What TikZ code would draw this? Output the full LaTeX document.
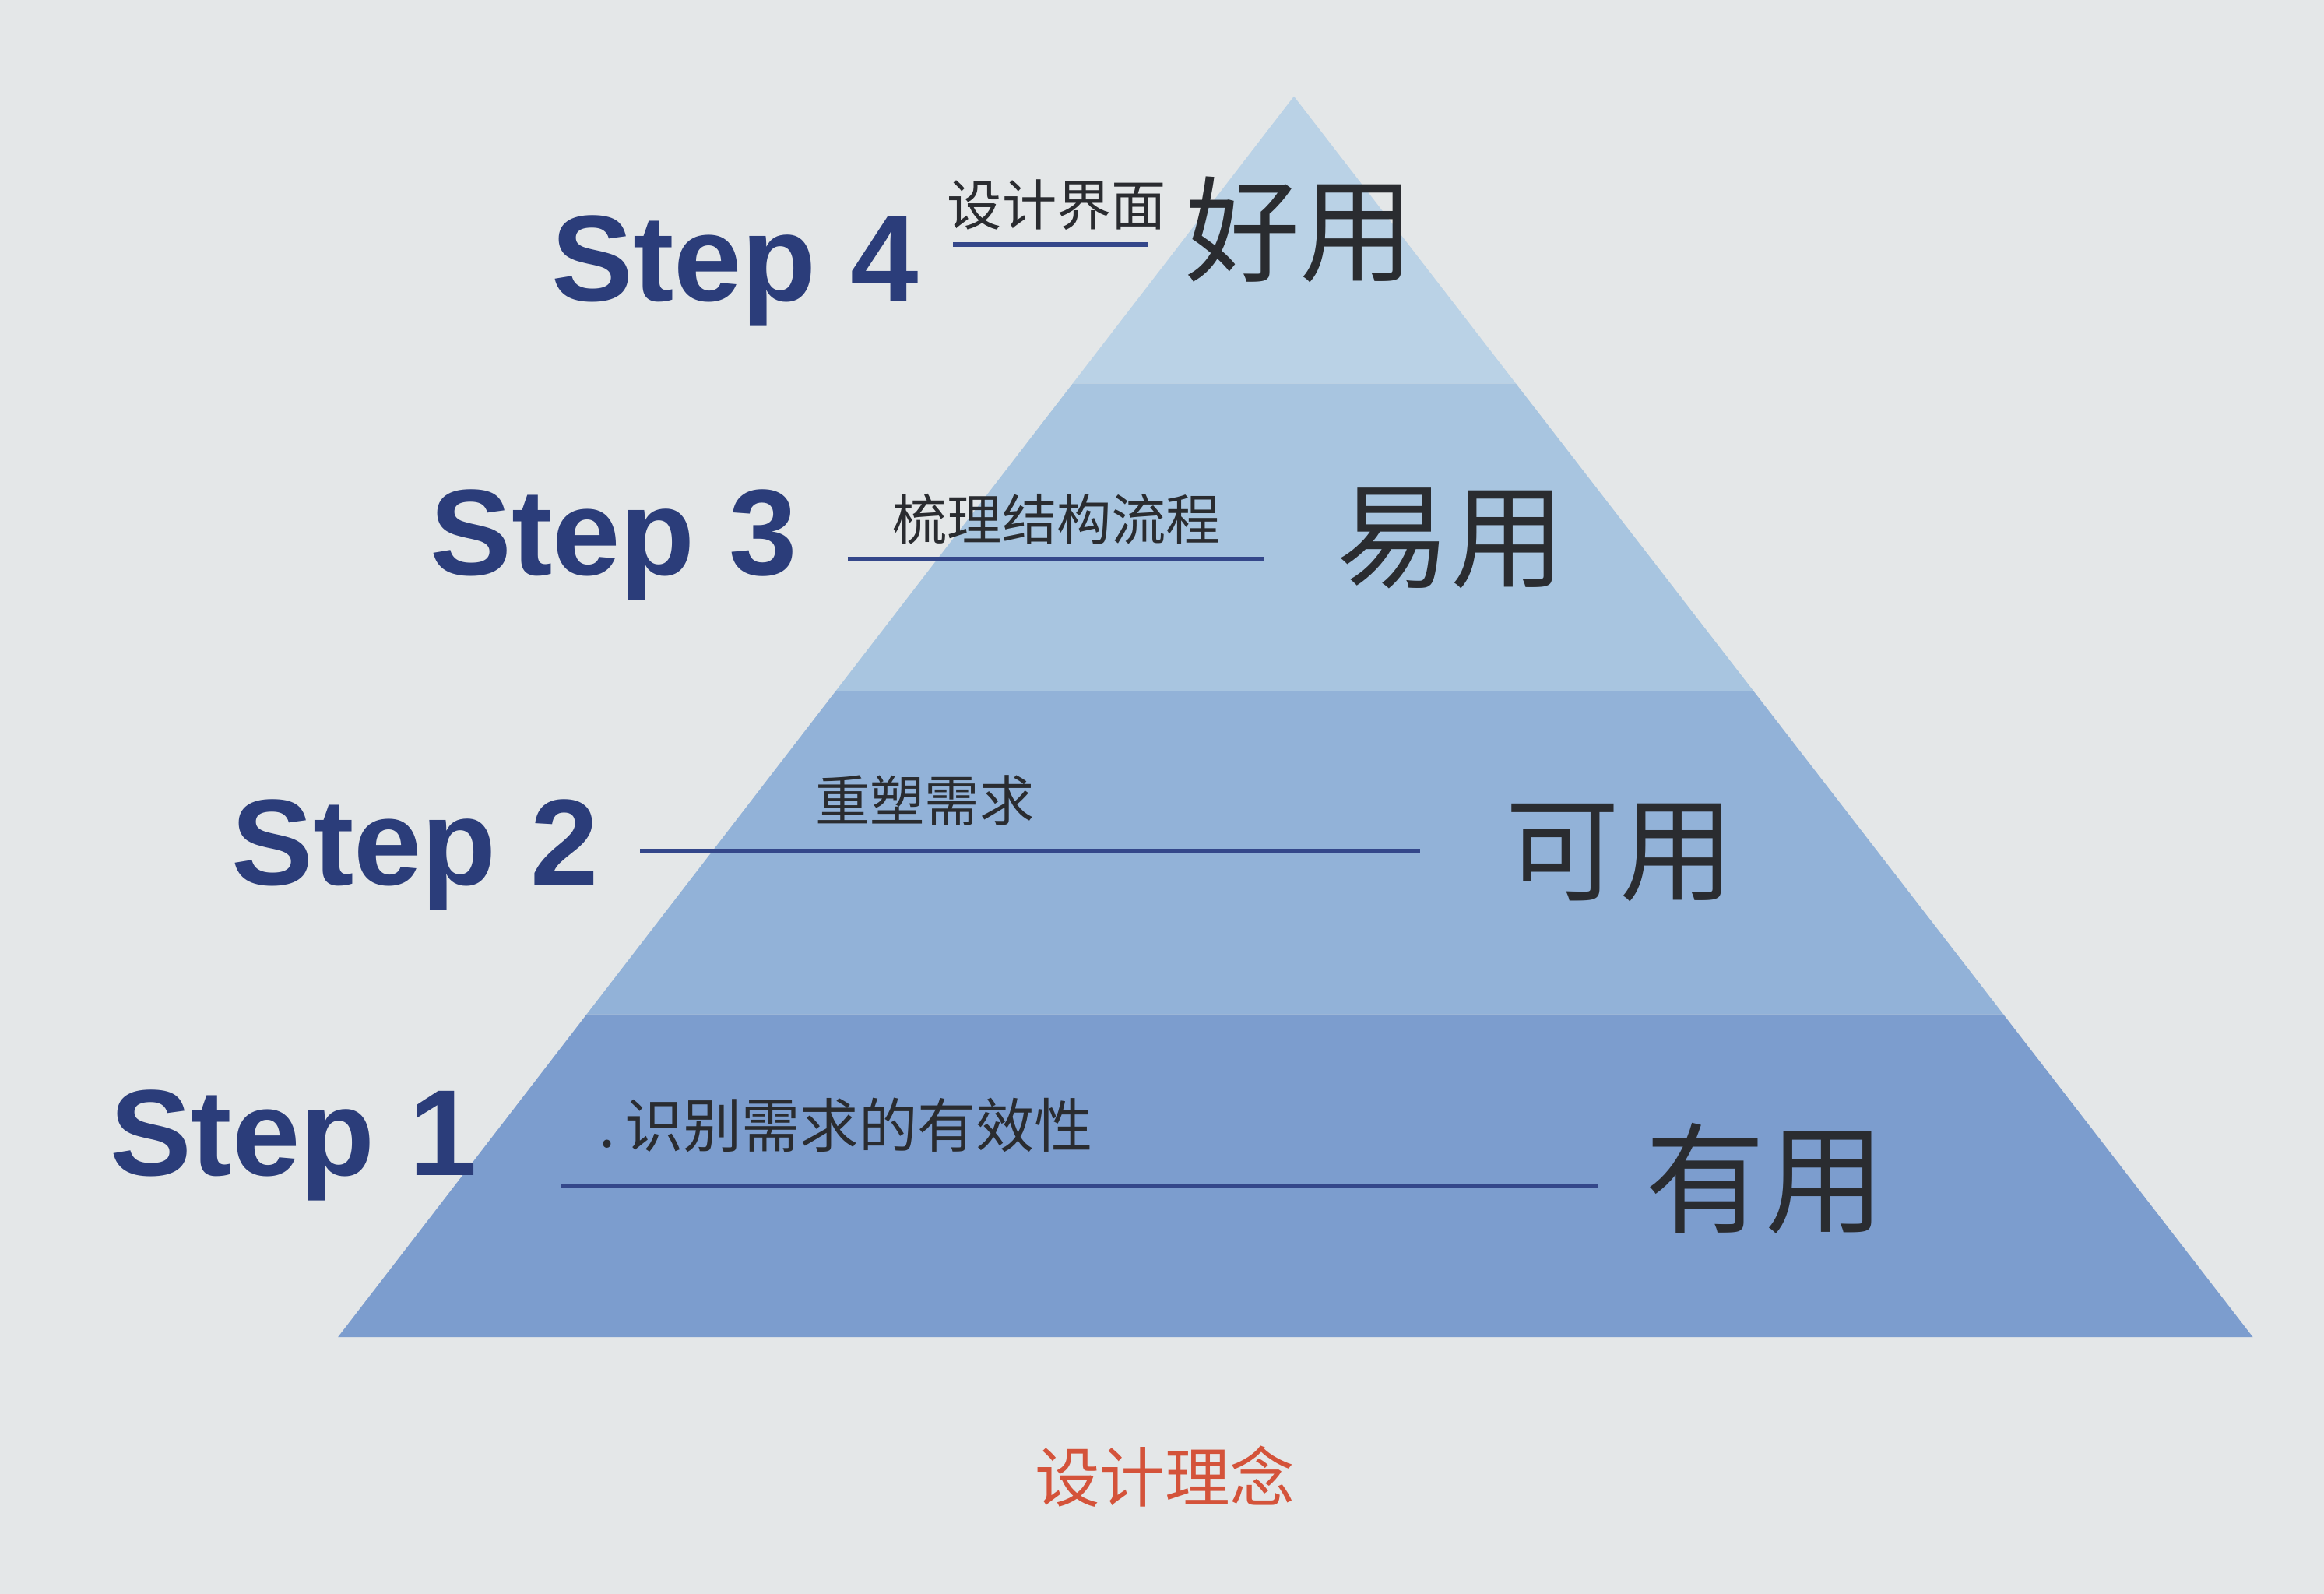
\documentclass[tikz,border=0pt]{standalone}
\usepackage{fontspec}
\setsansfont{Liberation Sans}
\newfontfamily\cjk{Noto Sans CJK SC}
\usetikzlibrary{calc}
\definecolor{paper}{HTML}{E4E7E8}
\definecolor{bandA}{HTML}{7C9DCE}
\definecolor{bandB}{HTML}{92B2D8}
\definecolor{bandC}{HTML}{A8C5E0}
\definecolor{bandD}{HTML}{BAD2E6}
\definecolor{stepblue}{HTML}{2B3D7A}
\definecolor{rulecol}{HTML}{34478A}
\definecolor{inkgray}{HTML}{2A2C30}
\definecolor{captionred}{HTML}{D4533A}
\tikzset{
  steplabel/.style={font=\sffamily\bfseries\fontsize{47}{47}\selectfont,text=stepblue,anchor=base,inner sep=0pt},
  tasklabel/.style={font=\cjk\fontsize{21}{21}\selectfont,text=inkgray,inner sep=0pt},
  uselabel/.style={font=\cjk\fontsize{44}{44}\selectfont,text=inkgray,inner sep=0pt},
  underrule/.style={draw=rulecol,line width=1.7pt}
}
\begin{document}
\begin{tikzpicture}[x=0.02cm,y=-0.02cm]
\fill[paper] (0,0) rectangle (1568,1075);
\coordinate (apex) at (873,65);
\coordinate (bl) at (228,902);
\coordinate (br) at (1520,902);
\foreach \ta/\tb/\col in {0/0.2315/bandD,0.2315/0.4797/bandC,0.4797/0.7399/bandB,0.7399/1/bandA}
  \fill[\col] ($(apex)!\ta!(bl)$) -- ($(apex)!\tb!(bl)$) -- ($(apex)!\tb!(br)$) -- ($(apex)!\ta!(br)$) -- cycle;

\node[steplabel] (step4) at (496,203) {Step 4};
\node[steplabel] (step3) at (414,388) {Step 3};
\node[steplabel] (step2) at (280,597) {Step 2};
\node[steplabel] (step1) at (198,793) {Step 1};

\node[tasklabel] (task4) at (713,138) {设计界面};
\node[tasklabel] (task3) at (713,350) {梳理结构流程};
\node[tasklabel] (task2) at (624,540) {重塑需求};
\node[tasklabel,font=\cjk\fontsize{22.5}{22.5}\selectfont] (task1) at (571,759) {.\hspace{0.15em}识别需求的有效性};

\node[uselabel] (use4) at (877,155) {好用};
\node[uselabel] (use3) at (979,363) {易用};
\node[uselabel] (use2) at (1093,575) {可用};
\node[uselabel,font=\cjk\fontsize{46}{46}\selectfont] (use1) at (1191,795) {有用};

\coordinate (r4a) at (643,165); \coordinate (r4b) at (775,165);
\coordinate (r3a) at (572,377); \coordinate (r3b) at (853,377);
\coordinate (r2a) at (432,574); \coordinate (r2b) at (958,574);
\coordinate (r1a) at (378,800); \coordinate (r1b) at (1078,800);
\foreach \i in {1,...,4}
  \draw[underrule] (r\i a) -- (r\i b);

\node[font=\cjk\fontsize{25}{25}\selectfont,text=captionred,inner sep=0pt] (caption) at (786,996) {设计理念};
\end{tikzpicture}
\end{document}
